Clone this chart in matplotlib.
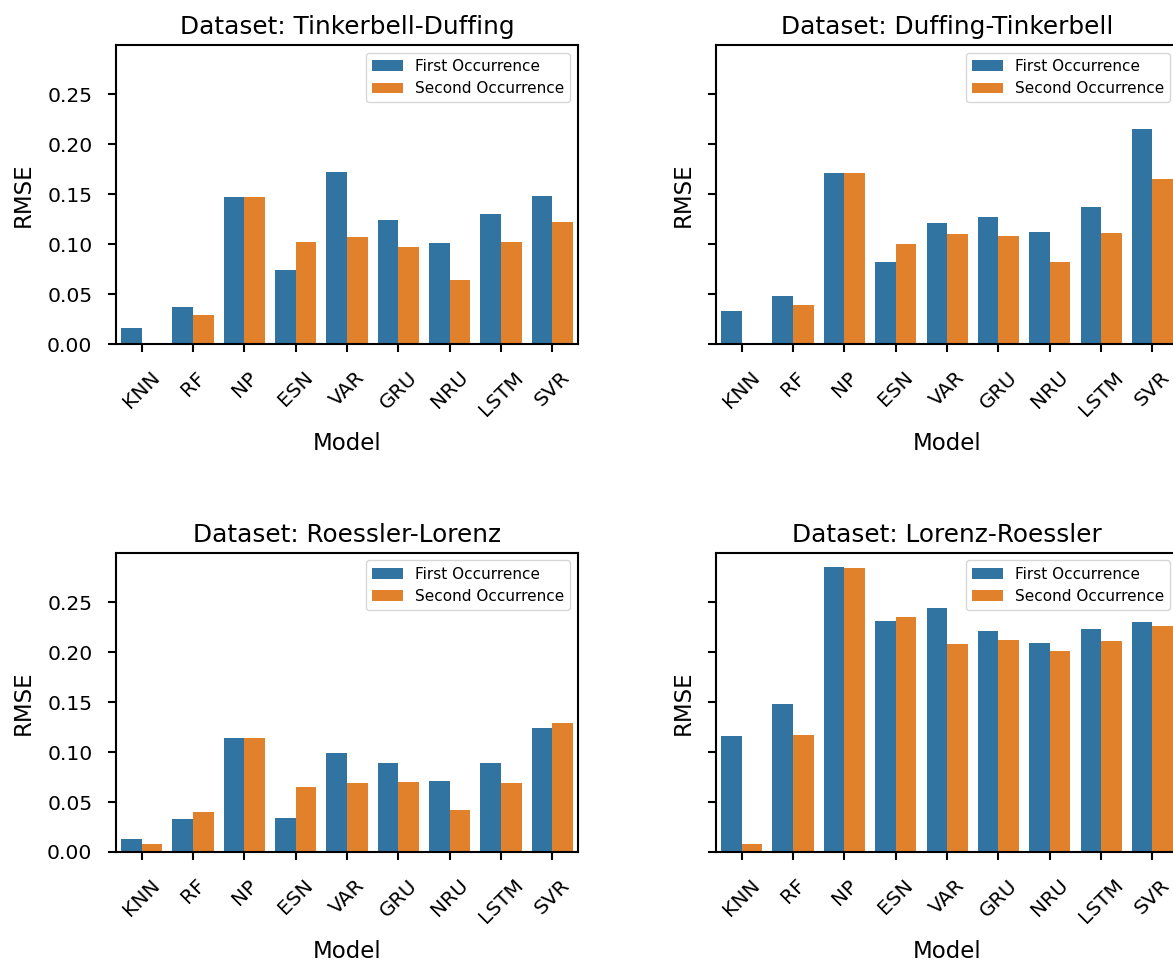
import numpy as np
import matplotlib
matplotlib.use("Agg")
import matplotlib.pyplot as plt

models = ["KNN", "RF", "NP", "ESN", "VAR", "GRU", "NRU", "LSTM", "SVR"]
series_names = ["First Occurrence", "Second Occurrence"]

titles = ["Dataset: Tinkerbell-Duffing", "Dataset: Duffing-Tinkerbell",
          "Dataset: Roessler-Lorenz", "Dataset: Lorenz-Roessler"]

tink_duff_first = [0.016, 0.037, 0.147, 0.074, 0.172, 0.124, 0.101, 0.130, 0.148]
tink_duff_second = [0.0, 0.029, 0.147, 0.102, 0.107, 0.097, 0.064, 0.102, 0.122]

duff_tink_first = [0.033, 0.048, 0.171, 0.082, 0.121, 0.127, 0.112, 0.137, 0.215]
duff_tink_second = [0.0, 0.039, 0.171, 0.100, 0.110, 0.108, 0.082, 0.111, 0.165]

roes_lor_first = [0.013, 0.033, 0.114, 0.034, 0.099, 0.089, 0.071, 0.089, 0.124]
roes_lor_second = [0.008, 0.040, 0.114, 0.065, 0.069, 0.070, 0.042, 0.069, 0.129]

lor_roes_first = [0.116, 0.148, 0.285, 0.231, 0.244, 0.221, 0.209, 0.223, 0.230]
lor_roes_second = [0.008, 0.117, 0.284, 0.235, 0.208, 0.212, 0.201, 0.211, 0.226]

panels = [(tink_duff_first, tink_duff_second),
          (duff_tink_first, duff_tink_second),
          (roes_lor_first, roes_lor_second),
          (lor_roes_first, lor_roes_second)]

colors = ["#3274a1", "#e1812c"]

plt.rcParams["font.family"] = "DejaVu Sans"

fig, axes = plt.subplots(2, 2, figsize=(11.73, 9.65), dpi=100, sharey=True)
fig.subplots_adjust(left=0.0989, right=1.0043, top=0.9534, bottom=0.1171,
                    wspace=0.2987, hspace=0.697)

x = np.arange(len(models))
for ax, title, (first, second) in zip(axes.flat, titles, panels):
    ax.bar(x - 0.2, first, width=0.4, color=colors[0], linewidth=0,
           label=series_names[0])
    ax.bar(x + 0.2, second, width=0.4, color=colors[1], linewidth=0,
           label=series_names[1])
    ax.set_xlim(-0.5, len(models) - 0.5)
    ax.set_xticks(x)
    ax.set_xticklabels(models, rotation=45)
    ax.set_title(title, fontsize=17.8, pad=8)
    ax.set_xlabel("Model", fontsize=16.5, labelpad=9)
    ax.set_ylabel("RMSE", fontsize=16.5, labelpad=9)
    ax.tick_params(axis="both", labelsize=14.6, length=6, width=1.5,
                   direction="out", pad=11)
    for s in ax.spines.values():
        s.set_linewidth(1.5)
    ax.legend(loc="upper right", fontsize=11)
    ax.yaxis.set_tick_params(labelleft=ax in axes[:, 0])

axes[0, 0].set_yticks([0.0, 0.05, 0.10, 0.15, 0.20, 0.25])
axes[0, 0].set_ylim(0, 0.2995)

fig.savefig("out.png", dpi=100)
